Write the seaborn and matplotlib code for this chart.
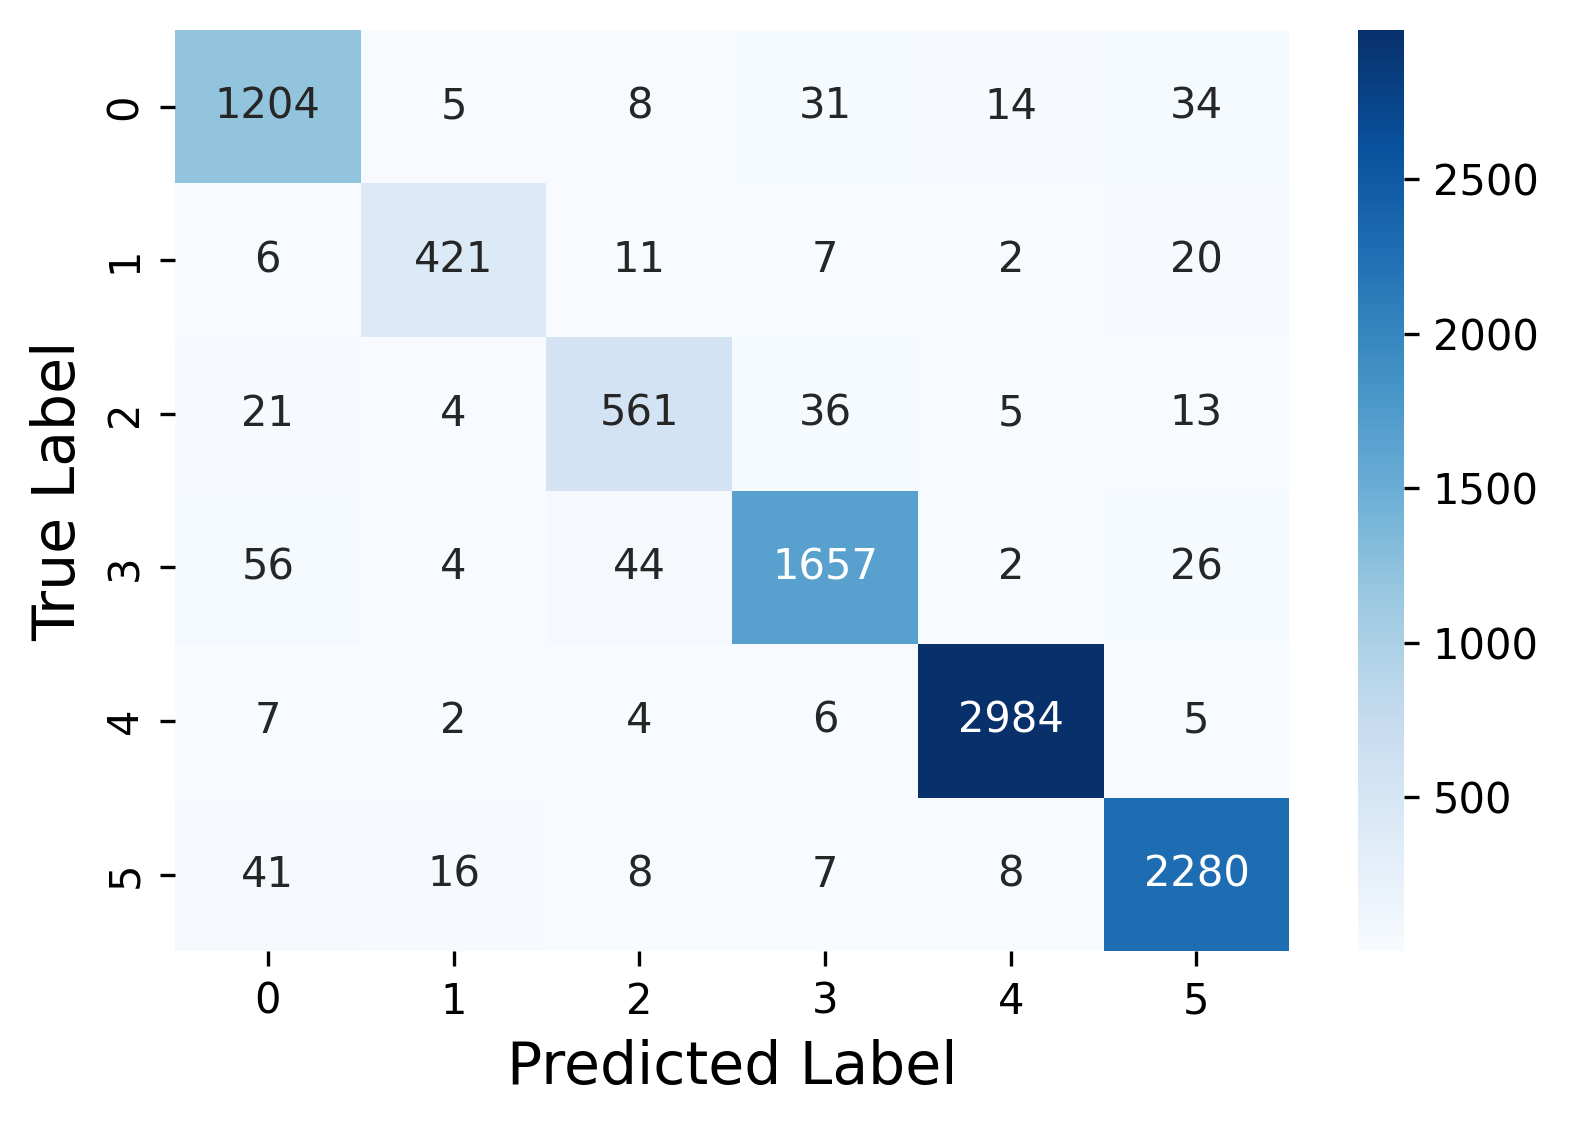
import matplotlib
matplotlib.use("Agg")
import matplotlib.pyplot as plt
import numpy as np
import seaborn as sns

labels = [0, 1, 2, 3, 4, 5]
row0 = [1204, 5, 8, 31, 14, 34]
row1 = [6, 421, 11, 7, 2, 20]
row2 = [21, 4, 561, 36, 5, 13]
row3 = [56, 4, 44, 1657, 2, 26]
row4 = [7, 2, 4, 6, 2984, 5]
row5 = [41, 16, 8, 7, 8, 2280]
cm = np.array([row0, row1, row2, row3, row4, row5])

fig = plt.figure(figsize=(1571 / 300, 1128 / 300), dpi=300)
ax = fig.add_axes([0.1114, 0.1566, 0.7093, 0.8170])
cax = fig.add_axes([0.8642, 0.1566, 0.0293, 0.8170])

sns.heatmap(cm, annot=True, fmt="d", cmap="Blues", ax=ax, cbar_ax=cax,
            xticklabels=labels, yticklabels=labels, annot_kws={"size": 10})
ax.set_xlabel("Predicted Label", fontsize=14)
ax.set_ylabel("True Label", fontsize=14)
cax.tick_params(labelsize=10)

fig.savefig("out.png", dpi=300)
